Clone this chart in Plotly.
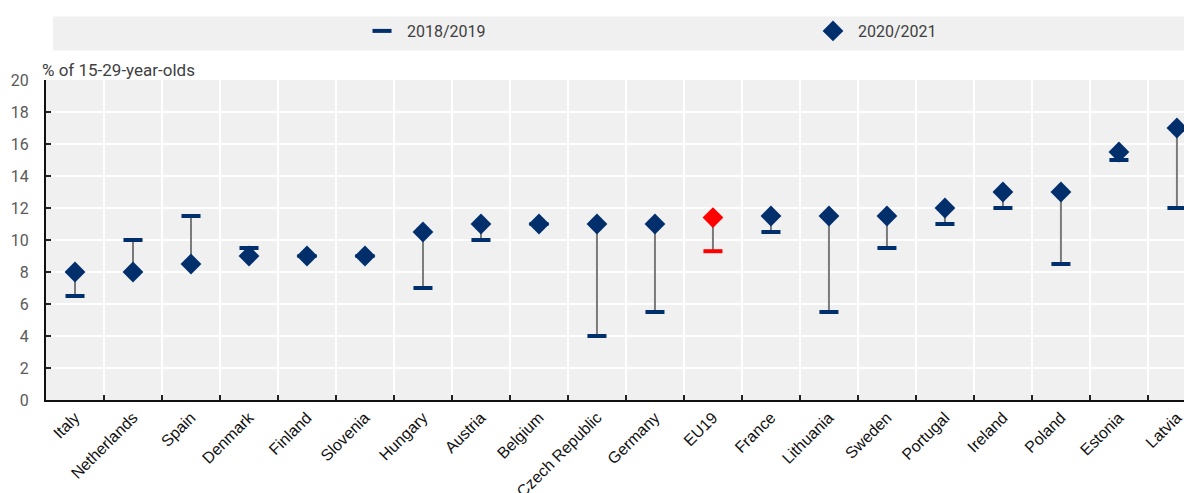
import plotly.graph_objects as go

countries = ["Italy", "Netherlands", "Spain", "Denmark", "Finland", "Slovenia", "Hungary",
             "Austria", "Belgium", "Czech Republic", "Germany", "EU19", "France", "Lithuania",
             "Sweden", "Portugal", "Ireland", "Poland", "Estonia", "Latvia"]
v2018 = [6.5, 10.0, 11.5, 9.5, 9.0, 9.0, 7.0, 10.0, 11.0, 4.0, 5.5, 9.3, 10.5, 5.5,
         9.5, 11.0, 12.0, 8.5, 15.0, 12.0]
v2020 = [8.0, 8.0, 8.5, 9.0, 9.0, 9.0, 10.5, 11.0, 11.0, 11.0, 11.0, 11.4, 11.5, 11.5,
         11.5, 12.0, 13.0, 13.0, 15.5, 17.0]
y_ticks = list(range(0, 21, 2))

NAVY = "#002F6C"
RED = "#FF0000"
colors = [RED if c == "EU19" else NAVY for c in countries]

txt_font = "Roboto, sans-serif"
# page body adds an 8px offset; size the figure so it fills the window
W, H = 1184, 485
PLOT_W = 1146

# connecting lines
lx, ly = [], []
for c, a, b in zip(countries, v2018, v2020):
    lx += [c, c, None]
    ly += [a, b, None]

fig = go.Figure()
fig.add_trace(go.Scatter(x=lx, y=ly, mode="lines", line=dict(color="#7A7A7A", width=2),
                         showlegend=False, hoverinfo="skip"))
fig.add_trace(go.Scatter(x=countries, y=v2018, mode="markers", name="2018/2019",
                         legend="legend",
                         marker=dict(symbol="line-ew", size=13.6, color=colors,
                                     line=dict(width=4, color=colors))))
fig.add_trace(go.Scatter(x=countries, y=v2020, mode="markers", name="2020/2021",
                         legend="legend2",
                         marker=dict(symbol="diamond", size=16, color=colors,
                                     line=dict(width=0))))

leg_common = dict(orientation="h", xref="container", yref="container",
                  xanchor="left", yanchor="middle", y=1 - 23 / H,
                  itemwidth=40, bgcolor="rgba(0,0,0,0)",
                  font=dict(family=txt_font, size=16, color="#404040"))

fig.update_layout(
    width=W, height=H,
    margin=dict(l=38, r=0, t=72, b=93, autoexpand=False),
    paper_bgcolor="white",
    plot_bgcolor="#F0F0F0",
    showlegend=True,
    legend=dict(x=349 / W, **leg_common),
    legend2=dict(x=800 / W, **leg_common),
    shapes=[dict(type="rect", xref="paper", yref="paper", x0=7 / PLOT_W, x1=1.0,
                 y0=(400 - 50.5) / 320, y1=(400 - 16.5) / 320, fillcolor="#F0F0F0",
                 line=dict(width=0), layer="below")],
    annotations=[dict(text="% of 15-29-year-olds", xref="paper", yref="paper",
                      x=-6 / PLOT_W, y=1.0, xanchor="left", yanchor="bottom", showarrow=False,
                      yshift=-2, font=dict(family=txt_font, size=17, color="#404040"))],
    xaxis=dict(type="category", categoryorder="array", categoryarray=countries,
               range=[-0.5, 19.26], tickson="boundaries", ticks="inside", ticklen=5,
               tickcolor="#222222", tickwidth=2,
               showgrid=True, gridcolor="white", gridwidth=2,
               showline=True, linecolor="#111111", linewidth=2,
               tickangle=-45, tickfont=dict(family="Liberation Sans, Arial, sans-serif",
                                            size=16, color="#111111")),
    yaxis=dict(range=[0, 20], tickvals=y_ticks, ticks="inside", ticklen=5,
               tickcolor="#222222", tickwidth=2, ticklabelstandoff=12,
               showgrid=True, gridcolor="white", gridwidth=2, zeroline=False,
               showline=True, linecolor="#111111", linewidth=2,
               tickfont=dict(family=txt_font, size=16, color="#595959")),
)

fig.write_html("out.html")
